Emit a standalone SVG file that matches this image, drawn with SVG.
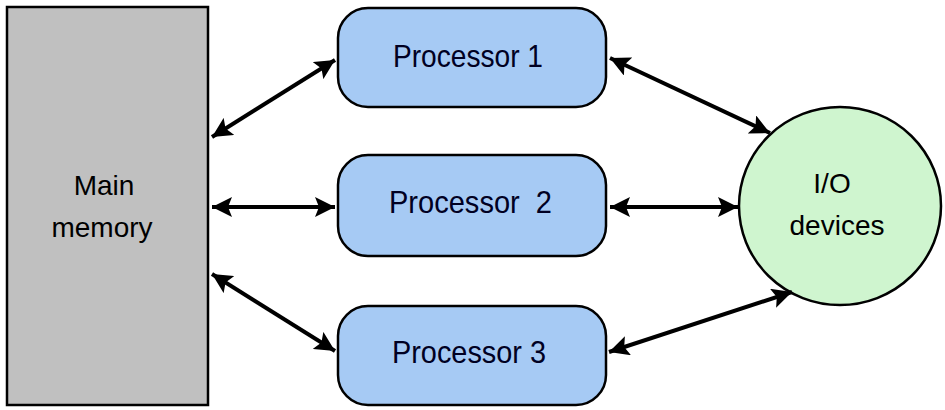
<svg xmlns="http://www.w3.org/2000/svg" width="945" height="410" viewBox="0 0 945 410">
<style>
.lbl{font-family:"Liberation Sans",Arial,sans-serif;font-size:28px;text-anchor:middle;fill:#000}
.proc rect{fill:#a6caf4;stroke:#000;stroke-width:2.5}
.plbl{fill:#000022;font-size:32px;text-anchor:start}
.conn line{stroke:#000;stroke-width:4}
</style>
<defs>
<marker id="ah" viewBox="0 0 20 20" refX="20" refY="10" markerWidth="20" markerHeight="20" markerUnits="userSpaceOnUse" orient="auto-start-reverse">
<path d="M0,0 L20,10 L0,20 L4,10 Z" fill="#000"/>
</marker>
</defs>
<rect width="945" height="410" fill="#fff"/>
<g id="memory">
<rect x="7" y="7" width="201" height="398" fill="#c0c0c0" stroke="#000" stroke-width="2.5"/>
<text class="lbl" x="104" y="195">Main</text>
<text class="lbl" x="102" y="237">memory</text>
</g>
<g id="proc1" class="proc">
<rect x="338" y="8" width="268" height="99" rx="30" ry="30"/>
<text class="lbl plbl" x="393" y="67" textLength="150" lengthAdjust="spacingAndGlyphs">Processor 1</text>
</g>
<g id="proc2" class="proc">
<rect x="338" y="155" width="268" height="101" rx="30" ry="30"/>
<text class="lbl plbl" x="389" y="213" textLength="163" lengthAdjust="spacingAndGlyphs" xml:space="preserve">Processor  2</text>
</g>
<g id="proc3" class="proc">
<rect x="338" y="306" width="268" height="99" rx="30" ry="30"/>
<text class="lbl plbl" x="392" y="363" textLength="154" lengthAdjust="spacingAndGlyphs">Processor 3</text>
</g>
<g id="io">
<ellipse cx="840" cy="206" rx="101" ry="99" fill="#cff5cf" stroke="#000" stroke-width="2.5"/>
<text class="lbl" x="832" y="193">I/O</text>
<text class="lbl" x="837" y="235">devices</text>
</g>
<g id="connectors" class="conn">
<line x1="212" y1="137" x2="335" y2="60" marker-start="url(#ah)" marker-end="url(#ah)"/>
<line x1="212" y1="207" x2="335" y2="207" marker-start="url(#ah)" marker-end="url(#ah)"/>
<line x1="212" y1="274" x2="335" y2="351" marker-start="url(#ah)" marker-end="url(#ah)"/>
<line x1="610" y1="58" x2="770" y2="133" marker-start="url(#ah)" marker-end="url(#ah)"/>
<line x1="610" y1="207" x2="738" y2="207" marker-start="url(#ah)" marker-end="url(#ah)"/>
<line x1="609" y1="352" x2="792" y2="292" marker-start="url(#ah)" marker-end="url(#ah)"/>
</g>
</svg>
